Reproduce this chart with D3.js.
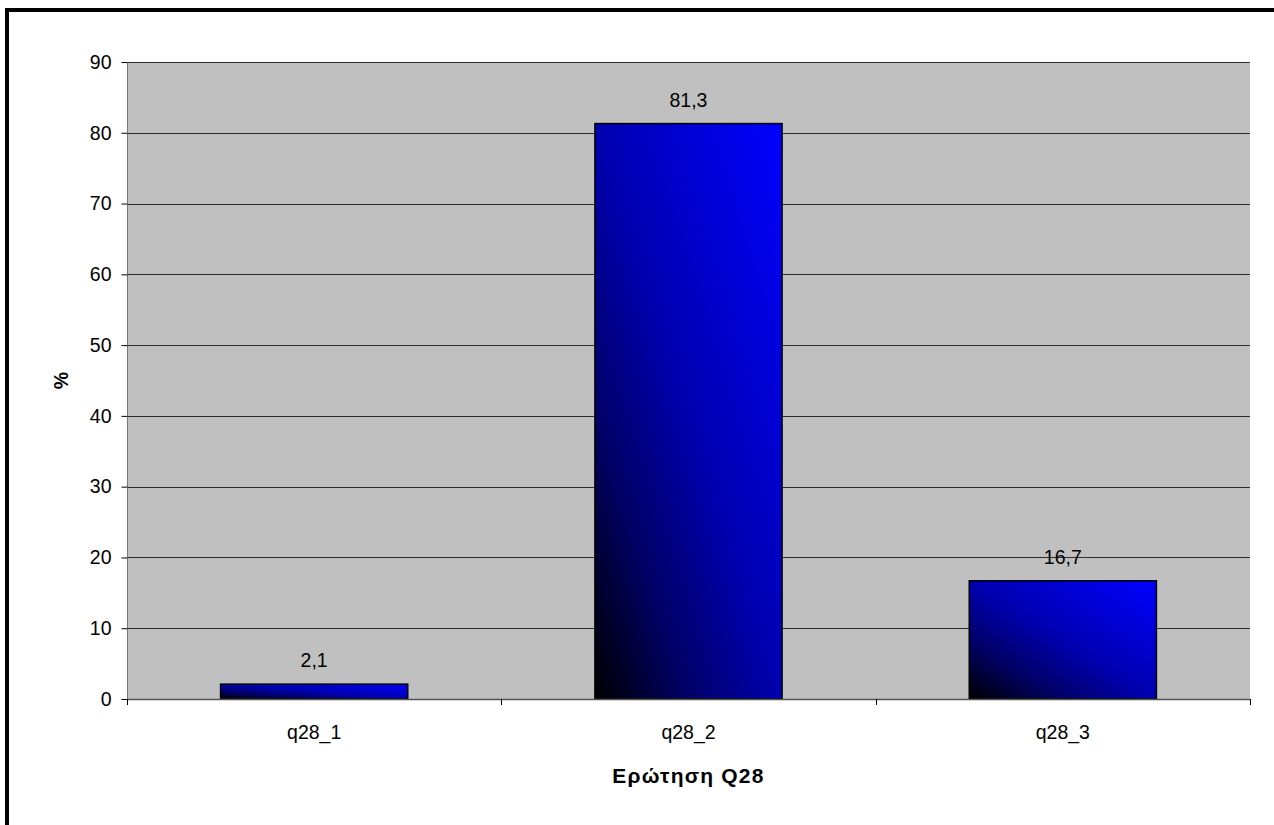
<!DOCTYPE html>
<html>
<head>
<meta charset="utf-8">
<script src="https://cdn.jsdelivr.net/npm/d3@7"></script>
<style>
  html, body { margin: 0; padding: 0; background: #fff; }
  svg { display: block; font-family: "Liberation Sans", Arial, sans-serif; }
</style>
</head>
<body>
<svg id="chart" width="1274" height="825"></svg>
<script>
// Responses to question Q28 (percent)
const categories = ["q28_1", "q28_2", "q28_3"];
const values = [2.1, 81.3, 16.7];
const valueLabels = ["2,1", "81,3", "16,7"];
const yTicks = [0, 10, 20, 30, 40, 50, 60, 70, 80, 90];
const xTitle = "Ερώτηση Q28";
const yTitle = "%";

const svg = d3.select("#chart");
const W = 1274, H = 825;
const plot = { left: 127, top: 62, right: 1250, bottom: 699 };
const FS = 19.5;

// Outer frame (left and top edges fall inside the canvas)
svg.append("path")
  .attr("d", `M7,${H + 5} L7,10 L${W + 5},10`)
  .attr("fill", "none")
  .attr("stroke", "#000")
  .attr("stroke-width", 4);

const x = d3.scaleBand()
  .domain(categories)
  .range([plot.left, plot.right])
  .paddingInner(0.5)
  .paddingOuter(0.25);

const y = d3.scaleLinear()
  .domain([0, 90])
  .range([plot.bottom, plot.top]);

// Diagonal gradient: black at the lower-left, pure blue at the upper-right
const defs = svg.append("defs");
const grad = defs.append("linearGradient")
  .attr("id", "barFill")
  .attr("x1", 0).attr("y1", 1)
  .attr("x2", 1).attr("y2", 0);
[["0%", "#000000"], ["25%", "#000066"], ["50%", "#0000b0"], ["100%", "#0000ff"]]
  .forEach(([o, c]) => grad.append("stop").attr("offset", o).attr("stop-color", c));

// Plot background
svg.append("rect")
  .attr("x", plot.left).attr("y", plot.top)
  .attr("width", plot.right - plot.left)
  .attr("height", plot.bottom - plot.top)
  .attr("fill", "#c0c0c0");

// Horizontal gridlines
svg.append("g")
  .selectAll("line")
  .data(yTicks.filter(d => d > 0))
  .join("line")
  .attr("x1", plot.left).attr("x2", plot.right)
  .attr("y1", d => Math.round(y(d)) + 0.5)
  .attr("y2", d => Math.round(y(d)) + 0.5)
  .attr("stroke", "#2e2e2e")
  .attr("stroke-width", 1);

// Bars
svg.append("g")
  .selectAll("rect")
  .data(values)
  .join("rect")
  .attr("x", (d, i) => x(categories[i]))
  .attr("y", d => y(d))
  .attr("width", x.bandwidth())
  .attr("height", d => plot.bottom - y(d))
  .attr("fill", "url(#barFill)")
  .attr("stroke", "#000")
  .attr("stroke-width", 1.5);

// Value labels
svg.append("g")
  .selectAll("text")
  .data(values)
  .join("text")
  .attr("x", (d, i) => x(categories[i]) + x.bandwidth() / 2)
  .attr("y", d => y(d) - 17)
  .attr("text-anchor", "middle")
  .attr("font-size", FS)
  .attr("fill", "#000")
  .text((d, i) => valueLabels[i]);

// Y axis
const yAxis = svg.append("g")
  .attr("transform", `translate(${plot.left + 0.5},0)`)
  .call(d3.axisLeft(y).tickValues(yTicks).tickSize(6).tickPadding(10)
    .tickFormat(d3.format("d")));
yAxis.select(".domain").attr("stroke", "#777").attr("d", `M0,${plot.top}V${plot.bottom}`);
yAxis.selectAll(".tick line").attr("stroke", "#000");
yAxis.selectAll(".tick text")
  .attr("font-size", FS)
  .attr("font-family", "Liberation Sans, Arial, sans-serif")
  .attr("fill", "#000");

// X axis with ticks at category boundaries
const boundaries = [plot.left, ...categories.slice(1).map(c => x(c) - x.step() * x.paddingInner() / 2), plot.right];
const xAxisG = svg.append("g");
xAxisG.append("line")
  .attr("x1", plot.left).attr("x2", plot.right)
  .attr("y1", plot.bottom + 0.5).attr("y2", plot.bottom + 0.5)
  .attr("stroke", "#555").attr("stroke-width", 1.5);
xAxisG.selectAll("line.tk")
  .data(boundaries)
  .join("line")
  .attr("class", "tk")
  .attr("x1", d => Math.round(d) + 0.5).attr("x2", d => Math.round(d) + 0.5)
  .attr("y1", plot.bottom).attr("y2", plot.bottom + 6)
  .attr("stroke", "#000");
xAxisG.selectAll("text")
  .data(categories)
  .join("text")
  .attr("x", d => x(d) + x.bandwidth() / 2)
  .attr("y", 739)
  .attr("text-anchor", "middle")
  .attr("font-size", FS)
  .attr("fill", "#000")
  .text(d => d);

// Axis titles
svg.append("text")
  .attr("x", (plot.left + plot.right) / 2)
  .attr("y", 783)
  .attr("text-anchor", "middle")
  .attr("font-size", 21)
  .attr("font-weight", "bold")
  .attr("letter-spacing", 1.2)
  .attr("fill", "#000")
  .text(xTitle);

svg.append("text")
  .attr("transform", `translate(68,${(plot.top + plot.bottom) / 2}) rotate(-90)`)
  .attr("text-anchor", "middle")
  .attr("font-size", FS)
  .attr("font-weight", "bold")
  .attr("fill", "#000")
  .text(yTitle);
</script>
</body>
</html>
